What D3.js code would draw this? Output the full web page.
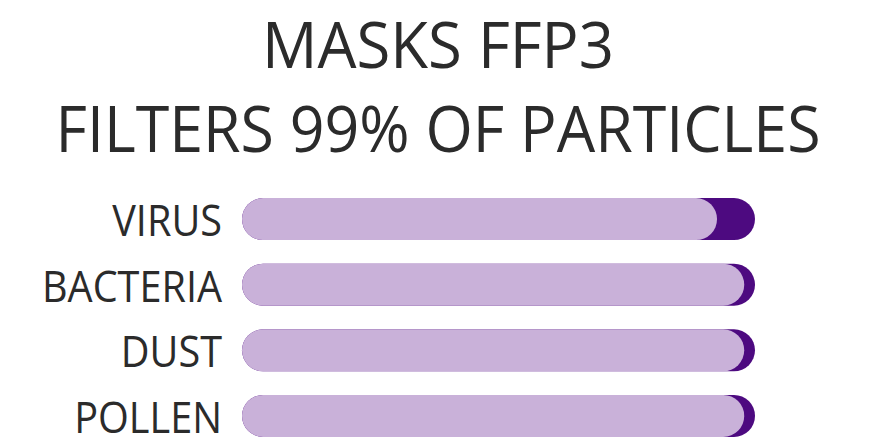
<!DOCTYPE html>
<html>
<head>
<meta charset="utf-8">
<script src="https://cdn.jsdelivr.net/npm/d3@7"></script>
<style>
    html, body { margin: 0; padding: 0; background: #fff; }
    svg text { font-family: 'Open Sans', sans-serif; fill: #2b2b2b; }
</style>
</head>
<body>
<div id="chart"></div>
<script>
const titleLines = ['MASKS FFP3', 'FILTERS 99% OF PARTICLES'];
const categories = ['VIRUS', 'BACTERIA', 'DUST', 'POLLEN'];
const values = [92.6, 97.9, 97.9, 97.9];

let width = 888,
    height = 441,
    barHeight = 42;

const svg = d3.select('#chart').append('svg')
    .attr('width', width)
    .attr('height', height);

// title, squeezed a little to mimic the narrow face of the original
const titleWidths = [352, 765];
titleLines.forEach(function(t, i) {
    svg.append('text')
        .attr('x', 438)
        .attr('y', 68 + i * 84)
        .attr('text-anchor', 'middle')
        .attr('font-size', 64)
        .attr('textLength', titleWidths[i])
        .attr('lengthAdjust', 'spacingAndGlyphs')
        .text(t);
});

const x = d3.scaleLinear().domain([0, 100]).range([242, 755]);
const y = d3.scaleBand().domain(categories).range([185, 450]).paddingInner(0.36).paddingOuter(0.2);

const rows = svg.selectAll('.row')
    .data(categories)
    .enter().append('g')
    .attr('class', 'row')
    .attr('transform', function(d) { return 'translate(0,' + (y(d) + y.bandwidth() / 2) + ')'; });

// dark full track
rows.append('rect')
    .attr('x', x(0))
    .attr('y', -barHeight / 2)
    .attr('width', x(100) - x(0))
    .attr('height', barHeight)
    .attr('rx', barHeight / 2)
    .attr('fill', '#4d0a80');

// light value pill
rows.append('rect')
    .attr('x', x(0))
    .attr('y', -barHeight / 2)
    .attr('width', function(d, i) { return x(values[i]) - x(0); })
    .attr('height', barHeight)
    .attr('rx', barHeight / 2)
    .attr('fill', '#c9b1d9');

const labels = rows.append('text')
    .attr('x', 222)
    .attr('y', 17)
    .attr('text-anchor', 'end')
    .attr('font-size', 44)
    .text(function(d) { return d; });

// condense labels by the same factor as BACTERIA -> 180px
let k = 1;
labels.each(function(d) { if (d === 'BACTERIA') k = 180 / this.getComputedTextLength(); });
labels.each(function() {
    d3.select(this)
        .attr('textLength', this.getComputedTextLength() * k)
        .attr('lengthAdjust', 'spacingAndGlyphs');
});
</script>
</body>
</html>
